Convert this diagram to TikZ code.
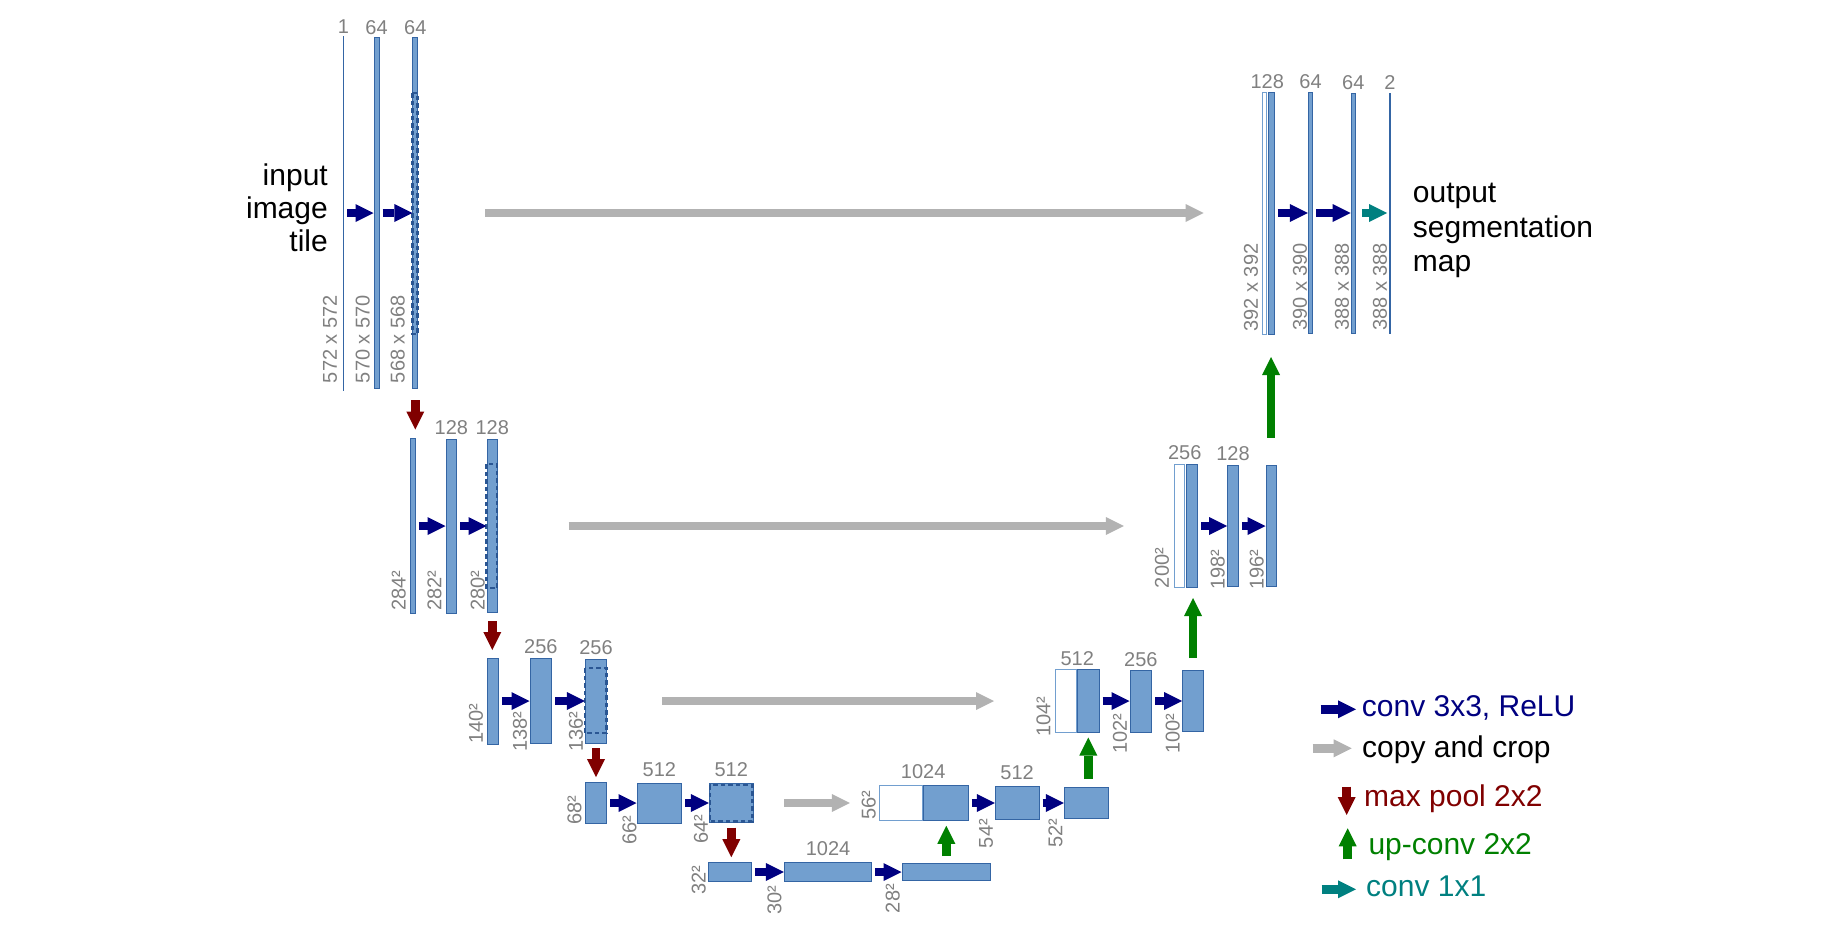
\documentclass[tikz,border=0pt]{standalone}
\usepackage{fontspec}
\setmainfont{Liberation Sans}
\usetikzlibrary{arrows.meta,positioning}
\definecolor{fmapfill}{HTML}{729FCF}
\definecolor{fmapline}{HTML}{3465A4}
\definecolor{cropline}{HTML}{2A5693}
\definecolor{convblue}{HTML}{000080}
\definecolor{copygray}{HTML}{B2B2B2}
\definecolor{poolred}{HTML}{800000}
\definecolor{upgreen}{HTML}{008000}
\definecolor{oneteal}{HTML}{008080}
\definecolor{dimgray}{HTML}{808080}

\begin{document}
\begin{tikzpicture}[x=1pt, y=-1pt]
	\tikzstyle{fmap}=[draw=fmapline, fill=fmapfill, line width=1pt, inner sep=0pt, anchor=west]
	\tikzstyle{cmap}=[fmap, draw=fmapfill, fill=white]
	\tikzstyle{cropbox}=[draw=cropline, line width=2.6pt, dash pattern=on 4.5pt off 3pt]
	\tikzstyle{chan}=[text=dimgray, inner sep=0pt, font=\fontsize{20}{24}\selectfont]
	\tikzstyle{dim}=[chan, rotate=90, anchor=south west]
	\tikzstyle{bigtext}=[inner sep=0pt, font=\fontsize{30}{33.5}\selectfont]
	\tikzstyle{legtext}=[bigtext, anchor=base west]
	\tikzstyle{tip}=[-{Triangle[length=18pt,width=18pt,line width=0pt]}, line width=8.5pt]
	\tikzstyle{conv}=[tip, draw=convblue, shorten <=3pt]
	\tikzstyle{convone}=[tip, draw=oneteal]
	\tikzstyle{copy}=[tip, draw=copygray]
	\tikzstyle{pool}=[tip, draw=poolred]
	\tikzstyle{upconv}=[tip, draw=upgreen]

	\useasboundingbox (0,0) rectangle (1821,927);

	\node[fmap, minimum width=0.8pt, minimum height=354pt] (l1a) at (342.5,213) {};
	\node[fmap, minimum width=5pt, minimum height=351pt] (l1b) at (373.5,213) {};
	\node[fmap, minimum width=5pt, minimum height=351pt] (l1c) at (412.3,213) {};
	\node[fmap, minimum width=5pt, minimum height=175pt] (l2a) at (409.8,526) {};
	\node[fmap, minimum width=10.7pt, minimum height=174pt] (l2b) at (445.5,526) {};
	\node[fmap, minimum width=10.5pt, minimum height=173pt] (l2c) at (486.5,526) {};
	\node[fmap, minimum width=11.3pt, minimum height=86pt] (l3a) at (486.5,701) {};
	\node[fmap, minimum width=21.7pt, minimum height=85pt] (l3b) at (529.5,701) {};
	\node[fmap, minimum width=21.4pt, minimum height=84pt] (l3c) at (584.8,701) {};
	\node[fmap, minimum width=21.4pt, minimum height=41.6pt] (l4a) at (584.8,803) {};
	\node[fmap, minimum width=44.7pt, minimum height=40pt] (l4b) at (636.5,803) {};
	\node[fmap, minimum width=44pt, minimum height=39pt] (l4c) at (708.8,803) {};
	\node[fmap, minimum width=43.4pt, minimum height=19.6pt] (l5a) at (707.8,872) {};
	\node[fmap, minimum width=87.4pt, minimum height=18.3pt] (l5b) at (783.8,872) {};
	\node[fmap, minimum width=88.7pt, minimum height=17pt] (l5c) at (901.5,872) {};

	\node[cmap, minimum width=43.4pt, minimum height=34.5pt] (u4w) at (878.8,803) {};
	\node[fmap, minimum width=44.6pt, minimum height=34.5pt, right=0pt of u4w] (u4u) {};
	\node[fmap, minimum width=43.7pt, minimum height=33pt] (u4d) at (994.8,803) {};
	\node[fmap, minimum width=44pt, minimum height=31.6pt] (u4e) at (1063.8,803) {};
	\node[cmap, minimum width=21.7pt, minimum height=63pt] (u3w) at (1054.5,701) {};
	\node[fmap, minimum width=21.3pt, minimum height=63pt, right=0pt of u3w] (u3u) {};
	\node[fmap, minimum width=21.7pt, minimum height=62pt] (u3d) at (1129.5,701) {};
	\node[fmap, minimum width=20.6pt, minimum height=61pt] (u3e) at (1182.2,701) {};
	\node[cmap, minimum width=10pt, minimum height=123pt] (u2w) at (1173.8,526) {};
	\node[fmap, minimum width=10.7pt, minimum height=123pt, right=1.5pt of u2w] (u2u) {};
	\node[fmap, minimum width=10.6pt, minimum height=121.6pt] (u2d) at (1227.2,526) {};
	\node[fmap, minimum width=10pt, minimum height=120.3pt] (u2e) at (1265.5,526) {};
	\node[cmap, minimum width=4.7pt, minimum height=242pt] (u1w) at (1261.5,213) {};
	\node[fmap, minimum width=5.3pt, minimum height=242pt, right=1pt of u1w] (u1u) {};
	\node[fmap, minimum width=4.4pt, minimum height=241pt] (u1d) at (1307.8,213) {};
	\node[fmap, minimum width=4.7pt, minimum height=240pt] (u1e) at (1350.5,213) {};
	\node[fmap, minimum width=0.8pt, minimum height=240pt] (out) at (1389,213) {};

	\draw[cropbox] (412.3,93) rectangle (417.3,334);
	\draw[cropbox] (486.5,464) rectangle (497,588);
	\draw[cropbox] (584.8,668) rectangle (606.5,733);
	\draw[cropbox] (709.8,785) rectangle (752.3,821.5);

	\node[chan, above=2pt of l1a] (l1a-c) {1};
	\node[chan, above=2pt of l1b] (l1b-c) {64};
	\node[chan, above=2pt of l1c] (l1c-c) {64};
	\node[chan, above=4pt of l2b] (l2b-c) {128};
	\node[chan, above=4pt of l2c] (l2c-c) {128};
	\node[chan, above=4pt of l3b] (l3b-c) {256};
	\node[chan, above=4pt of l3c] (l3c-c) {256};
	\node[chan, above=6pt of l4b] (l4b-c) {512};
	\node[chan, above=6pt of l4c] (l4c-c) {512};
	\node[chan, above=6pt of l5b] (l5b-c) {1024};
	\node[chan, above=6pt of u4w.north east] (u4w-c) {1024};
	\node[chan, above=6pt of u4d] (u4d-c) {512};
	\node[chan, above=3pt of u3w.north east] (u3w-c) {512};
	\node[chan, above=3pt of u3d] (u3d-c) {256};
	\node[chan, above=4pt of u2w.north east] (u2w-c) {256};
	\node[chan, above=4pt of u2d] (u2d-c) {128};
	\node[chan, above=3pt of u1w.north east] (u1w-c) {128};
	\node[chan, above=3pt of u1d] (u1d-c) {64};
	\node[chan, above=3pt of u1e] (u1e-c) {64};
	\node[chan, above=3pt of out] (out-c) {2};

	\node[dim] (l1a-d) at (337.3,383.3) {572 x 572};
	\node[dim] (l1b-d) at (370,383.3) {570 x 570};
	\node[dim] (l1c-d) at (405,383.3) {568 x 568};
	\node[dim] (l2a-d) at (406,610.7) {284²};
	\node[dim] (l2b-d) at (441.7,610.7) {282²};
	\node[dim] (l2c-d) at (485,610.7) {280²};
	\node[dim] (l3a-d) at (483.3,744) {140²};
	\node[dim] (l3b-d) at (527.3,751.7) {138²};
	\node[dim] (l3c-d) at (583.3,752) {136²};
	\node[dim] (l4a-d) at (581.7,825) {68²};
	\node[dim] (l4b-d) at (636.7,845) {66²};
	\node[dim] (l4c-d) at (708.3,844) {64²};
	\node[dim] (l5a-d) at (706,895) {32²};
	\node[dim] (l5b-d) at (781.7,915) {30²};
	\node[dim] (l5c-d) at (900,913.3) {28²};
	\node[dim] (u4w-d) at (876,820) {56²};
	\node[dim] (u4d-d) at (993.3,848.3) {54²};
	\node[dim] (u4e-d) at (1062.7,848) {52²};
	\node[dim] (u3w-d) at (1050.7,736.7) {104²};
	\node[dim] (u3d-d) at (1127.3,754) {102²};
	\node[dim] (u3e-d) at (1180,754) {100²};
	\node[dim] (u2w-d) at (1169.3,588.3) {200²};
	\node[dim] (u2d-d) at (1225,590) {198²};
	\node[dim] (u2e-d) at (1264,590) {196²};
	\node[dim] (u1w-d) at (1258.3,331.7) {392 x 392};
	\node[dim] (u1d-d) at (1307.3,331) {390 x 390};
	\node[dim] (u1e-d) at (1349.3,331) {388 x 388};
	\node[dim] (out-d) at (1387.3,331) {388 x 388};

	\draw[conv] (l1a.east) -- (l1b.west);
	\draw[conv] (l1b.east) -- (l1c.west);
	\draw[conv] (l2a.east) -- (l2b.west);
	\draw[conv] (l2b.east) -- (l2c.west);
	\draw[conv] (l3a.east) -- (l3b.west);
	\draw[conv] (l3b.east) -- (l3c.west);
	\draw[conv] (l4a.east) -- (l4b.west);
	\draw[conv] (l4b.east) -- (l4c.west);
	\draw[conv] (l5a.east) -- (l5b.west);
	\draw[conv] (l5b.east) -- (l5c.west);
	\draw[conv] (u4u.east) -- (u4d.west);
	\draw[conv] (u4d.east) -- (u4e.west);
	\draw[conv] (u3u.east) -- (u3d.west);
	\draw[conv] (u3d.east) -- (u3e.west);
	\draw[conv] (u2u.east) -- (u2d.west);
	\draw[conv] (u2d.east) -- (u2e.west);
	\draw[conv] (u1u.east) -- (u1d.west);
	\draw[conv] (u1d.east) -- (u1e.west);
	\draw[convone, shorten <=6pt, shorten >=2pt] (u1e.east) -- (out.west);

	\draw[copy, shorten <=67pt, shorten >=58pt] (l1c.east) -- (u1w.west);
	\draw[copy, shorten <=70.5pt, shorten >=50pt] (l2c.east) -- (u2w.west);
	\draw[copy, shorten <=55pt, shorten >=60.5pt] (l3c.east) -- (u3w.west);
	\draw[copy, shorten <=30.5pt, shorten >=29pt] (l4c.east) -- (u4w.west);

	\draw[pool, shorten <=11pt, shorten >=8.5pt] (l1c.south) -- (l1c.south |- l2a.north);
	\draw[pool, shorten <=8pt, shorten >=7.5pt] (l2c.south) -- (l2c.south |- l3a.north);
	\draw[pool, shorten <=4.5pt, shorten >=4.5pt] (l3c.south) -- (l3c.south |- l4a.north);
	\draw[pool, shorten <=4.5pt, shorten >=4.5pt] (l4c.south) -- (l4c.south |- l5a.north);

	\draw[upconv, shorten <=7pt, shorten >=5pt] (l5c.north) -- (l5c.north |- u4u.south);
	\draw[upconv, shorten <=7.5pt, shorten >=4.5pt] (u3u.south |- u4e.north) -- (u3u.south);
	\draw[upconv, shorten <=12pt, shorten >=10pt] (u3e.north) -- (u3e.north |- u2u.south);
	\draw[upconv, shorten <=27.5pt, shorten >=22.5pt] (u2e.north) -- (u2e.north |- u1u.south);

	\node[bigtext, align=right, anchor=base east, font=\fontsize{30}{33.3}\selectfont] (intxt) at (328,251.7) {input\\image\\tile};
	\node[bigtext, align=left, anchor=base west, font=\fontsize{30}{34.5}\selectfont] (outtxt) at (1412.7,271.7) {output\\segmentation\\map};

	\coordinate (k1s) at (1320.7,709.3);
	\coordinate (k1e) at (1356,709.3);
	\coordinate (k2s) at (1312.7,748.3);
	\coordinate (k2e) at (1351.7,748.3);
	\coordinate (k3s) at (1346.7,786.7);
	\coordinate (k3e) at (1346.7,815);
	\coordinate (k4s) at (1347.7,859.3);
	\coordinate (k4e) at (1347.7,828.3);
	\coordinate (k5s) at (1321.7,889.3);
	\coordinate (k5e) at (1356,889.3);
	\draw[conv, shorten <=0pt] (k1s) -- (k1e);
	\draw[copy] (k2s) -- (k2e);
	\draw[pool] (k3s) -- (k3e);
	\draw[upconv] (k4s) -- (k4e);
	\draw[convone] (k5s) -- (k5e);
	\node[legtext, text=convblue] (k1) at (1361.7,716) {conv 3x3, ReLU};
	\node[legtext] (k2) at (1362,757.3) {copy and crop};
	\node[legtext, text=poolred] (k3) at (1364,806.7) {max pool 2x2};
	\node[legtext, text=upgreen] (k4) at (1368.3,854) {up-conv 2x2};
	\node[legtext, text=oneteal] (k5) at (1366,896.7) {conv 1x1};
\end{tikzpicture}
\end{document}
